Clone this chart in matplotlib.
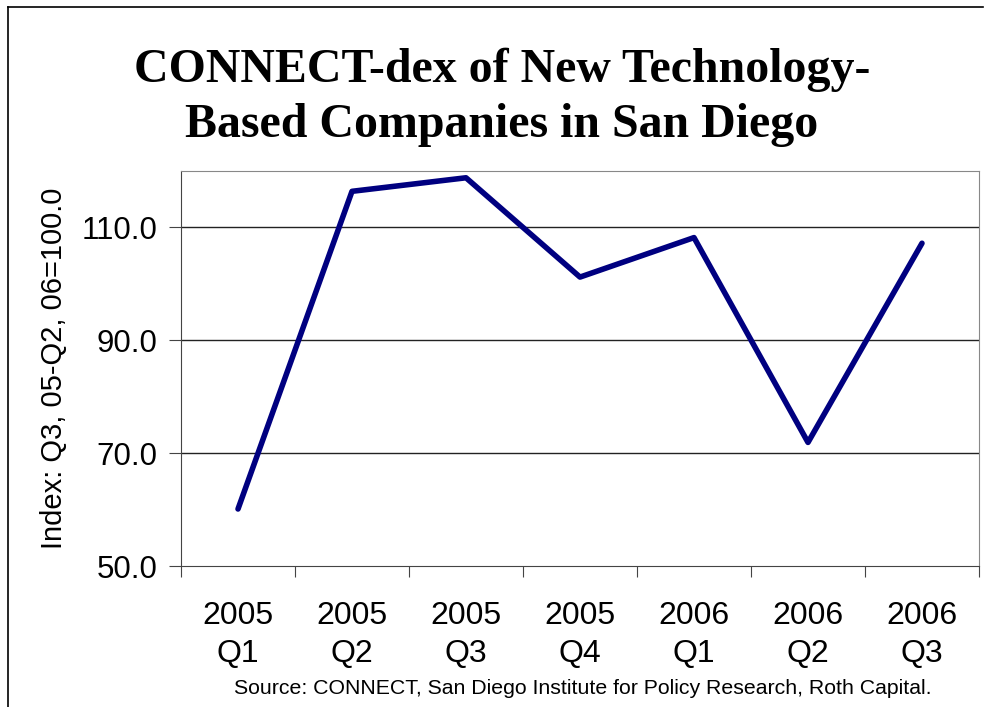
import matplotlib.pyplot as plt
from matplotlib.lines import Line2D
import numpy as np

# quarters and index values
quarters = ['2005\nQ1', '2005\nQ2', '2005\nQ3', '2005\nQ4', '2006\nQ1', '2006\nQ2', '2006\nQ3']
index_values = [60.1, 116.4, 118.8, 101.2, 108.2, 71.9, 107.2]
y_ticks = [50, 70, 90, 110]

fig = plt.figure(figsize=(9.84, 7.07), dpi=100)
ax = fig.add_axes([181 / 984, 1 - 566 / 707, (979 - 181) / 984, (566 - 171) / 707])

x = np.arange(len(quarters))
ax.plot(x, index_values, color='#000080', linewidth=4.0,
        solid_joinstyle='round', solid_capstyle='round')

ax.set_xlim(-0.5, len(quarters) - 0.5)
ax.set_ylim(50, 120)
ax.set_yticks(y_ticks)
ax.set_yticklabels([f'{v:.1f}' for v in y_ticks], fontsize=22.5, family='Liberation Sans')
for v in y_ticks[1:]:
    ax.axhline(v, color='#222222', linewidth=1.0, zorder=0)

# category labels sit between the boundary ticks
ax.set_xticks(np.arange(-0.5, len(quarters)), minor=False)
ax.set_xticklabels([])
ax.set_xticks(x, minor=True)
ax.set_xticklabels(quarters, minor=True, fontsize=23, family='Liberation Sans', linespacing=1.38)
ax.tick_params(axis='x', which='minor', length=0, pad=25)
ax.tick_params(axis='x', which='major', direction='out', length=8, color='#444444')
ax.tick_params(axis='y', direction='out', length=9, color='#444444', pad=8)

ax.spines['top'].set_color('#888888')
ax.spines['right'].set_color('#888888')
ax.spines['left'].set_color('#444444')
ax.spines['bottom'].set_color('#444444')

ax.set_ylabel('Index: Q3, 05-Q2, 06=100.0', fontsize=21, family='Liberation Sans', labelpad=10)

fig.text(502 / 984, 1 - 97 / 707, 'CONNECT-dex of New Technology-\nBased Companies in San Diego',
         ha='center', va='center', fontsize=34.5, fontweight='bold', family='Liberation Serif',
         linespacing=1.32)
fig.text(583 / 984, 1 - 688 / 707,
         'Source: CONNECT, San Diego Institute for Policy Research, Roth Capital.',
         ha='center', va='center', fontsize=15.3, family='Liberation Sans')

# outer frame lines (left and top edges)
fig.add_artist(Line2D([8 / 984, 8 / 984], [0, 1 - 7 / 707], transform=fig.transFigure, color='black', linewidth=1.2))
fig.add_artist(Line2D([8 / 984, 983 / 984], [1 - 7 / 707, 1 - 7 / 707], transform=fig.transFigure, color='black', linewidth=1.2))

fig.savefig('out.png', dpi=100)
